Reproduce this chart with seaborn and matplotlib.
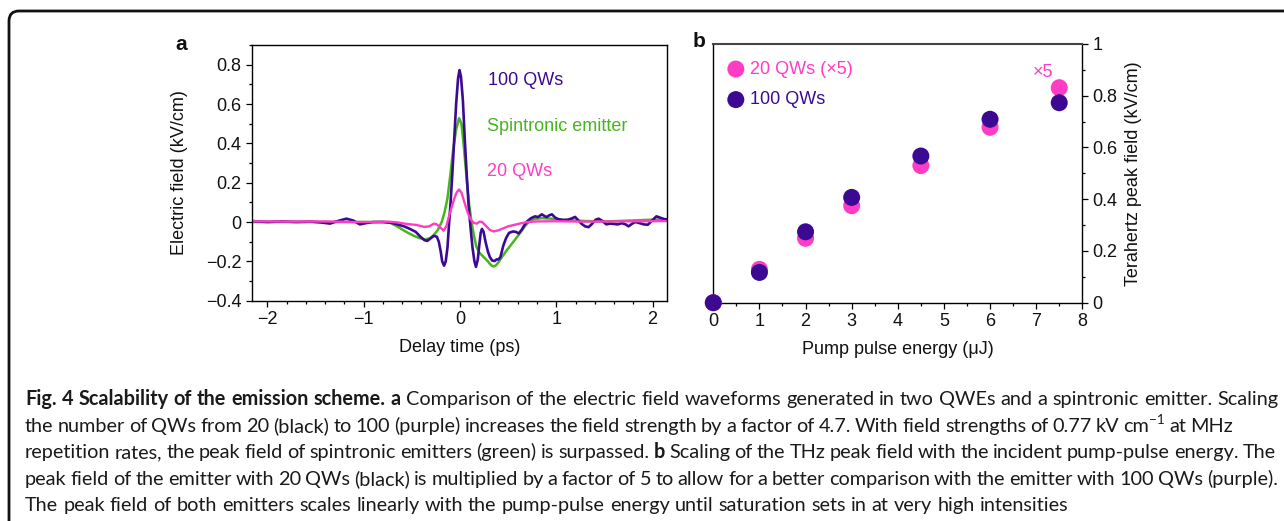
import numpy as np
import pandas as pd
import matplotlib
matplotlib.use("Agg")
import matplotlib.pyplot as plt
import seaborn as sns
from matplotlib.patches import FancyBboxPatch
from matplotlib.transforms import IdentityTransform
from matplotlib.ticker import MultipleLocator, FixedLocator, FixedFormatter

# ---------------- data ----------------
# panel a: 100 QWs waveform
t_100 = [-2.16, -2.0, -1.85, -1.7, -1.55, -1.45, -1.35, -1.27, -1.18, -1.11, -1.04, -0.97, -0.9, -0.8,
         -0.72, -0.65, -0.58, -0.52, -0.46, -0.41, -0.37, -0.34, -0.31, -0.27, -0.24, -0.22, -0.20,
         -0.185, -0.165, -0.148, -0.13, -0.115, -0.10, -0.08, -0.06, -0.04, -0.02, -0.005, 0.01, 0.03,
         0.05, 0.07, 0.09, 0.11, 0.13, 0.15, 0.166, 0.185, 0.20, 0.215, 0.228, 0.245, 0.265, 0.29, 0.31,
         0.335, 0.36, 0.38, 0.40, 0.42, 0.45, 0.48, 0.51, 0.55, 0.58, 0.61, 0.64, 0.67, 0.70, 0.74, 0.78,
         0.81, 0.85, 0.88, 0.90, 0.93, 0.955, 0.99, 1.02, 1.07, 1.12, 1.16, 1.195, 1.23, 1.265, 1.30,
         1.335, 1.37, 1.41, 1.44, 1.48, 1.52, 1.56, 1.60, 1.64, 1.68, 1.72, 1.75, 1.79, 1.82, 1.86, 1.91,
         1.95, 1.99, 2.04, 2.08, 2.12, 2.16]
e_100 = [0.005, 0.0, 0.003, 0.0, 0.002, -0.002, -0.008, 0.005, 0.017, 0.008, -0.012, -0.005, 0.0, 0.0,
         -0.003, -0.012, -0.022, -0.035, -0.05, -0.075, -0.092, -0.096, -0.085, -0.07, -0.075, -0.1, -0.15,
         -0.2, -0.222, -0.2, -0.13, -0.02, 0.08, 0.24, 0.42, 0.6, 0.73, 0.772, 0.74, 0.62,
         0.42, 0.24, 0.08, -0.03, -0.13, -0.2, -0.228, -0.19, -0.12, -0.055, -0.035, -0.05, -0.1, -0.15, -0.178,
         -0.196, -0.198, -0.19, -0.19, -0.178, -0.12, -0.08, -0.055, -0.048, -0.05, -0.058, -0.04, -0.015, 0.005, 0.02, 0.029,
         0.025, 0.039, 0.03, 0.025, 0.035, 0.039, 0.022, 0.015, 0.01, 0.012, 0.018, 0.026, 0.008, -0.01, -0.022,
         -0.026, -0.01, 0.012, 0.017, 0.005, -0.012, -0.008, -0.01, -0.012, -0.006, -0.012, -0.022, -0.008, 0.0, -0.005, -0.012,
         -0.014, 0.005, 0.029, 0.022, 0.015, 0.012]

# panel a: spintronic emitter waveform
t_spin = [-2.16, -1.5, -1.0, -0.8, -0.72, -0.66, -0.6, -0.54, -0.48, -0.42, -0.36, -0.31, -0.27, -0.23,
          -0.19, -0.16, -0.13, -0.10, -0.07, -0.04, -0.01, 0.015, 0.035, 0.055, 0.075, 0.095, 0.12, 0.145,
          0.17, 0.2, 0.23, 0.26, 0.29, 0.32, 0.345, 0.37, 0.40, 0.44, 0.485, 0.54, 0.59, 0.64, 0.68, 0.72,
          0.77, 0.85, 0.95, 1.1, 1.3, 1.5, 1.7, 1.9, 2.16]
e_spin = [0.0, 0.0, 0.0, 0.0, -0.005, -0.02, -0.038, -0.055, -0.07, -0.082, -0.088, -0.082, -0.065, -0.04,
          0.0, 0.05, 0.12, 0.24, 0.37, 0.47, 0.528, 0.5, 0.41, 0.3, 0.19, 0.09, 0.0, -0.07,
          -0.125, -0.155, -0.17, -0.185, -0.2, -0.218, -0.226, -0.222, -0.205, -0.175, -0.144, -0.11, -0.078, -0.045, -0.018, 0.003,
          0.015, 0.02, 0.017, 0.01, 0.005, 0.003, 0.006, 0.01, 0.015]

# panel a: 20 QWs waveform
t_20 = [-2.16, -1.8, -1.4, -1.1, -0.9, -0.75, -0.65, -0.55, -0.45, -0.37, -0.32, -0.27, -0.24, -0.2,
        -0.17, -0.14, -0.12, -0.09, -0.06, -0.035, -0.01, 0.015, 0.04, 0.065, 0.09, 0.115, 0.145, 0.175,
        0.205, 0.23, 0.27, 0.31, 0.35, 0.4, 0.45, 0.5, 0.56, 0.62, 0.7, 0.8, 1.0, 1.3, 1.6, 1.9, 2.16]
e_20 = [0.004, 0.002, 0.003, 0.0, 0.0, 0.002, -0.002, -0.01, -0.015, -0.025, -0.022, -0.008, -0.012, -0.03,
        -0.044, -0.02, 0.02, 0.07, 0.118, 0.15, 0.165, 0.15, 0.11, 0.07, 0.035, 0.01, -0.005, -0.008,
        0.002, 0.0, -0.02, -0.04, -0.048, -0.042, -0.032, -0.022, -0.015, -0.008, 0.0, 0.003, 0.004, 0.002, 0.003, 0.004, 0.005]

# panel b: peak field vs pump energy
energy = [0, 1, 2, 3, 4.5, 6, 7.5]
peak_20x5 = [0.0, 0.129, 0.249, 0.375, 0.530, 0.678, 0.831]
peak_100 = [0.0, 0.117, 0.274, 0.407, 0.567, 0.709, 0.773]

# tick labels
xa_ticks = [-2, -1, 0, 1, 2]
xa_labels = ["\u22122", "\u22121", "0", "1", "2"]
ya_ticks = [-0.4, -0.2, 0, 0.2, 0.4, 0.6, 0.8]
ya_labels = ["\u22120.4", "\u22120.2", "0", "0.2", "0.4", "0.6", "0.8"]
xb_ticks = [0, 1, 2, 3, 4, 5, 6, 7, 8]
xb_labels = ["0", "1", "2", "3", "4", "5", "6", "7", "8"]
yb_ticks = [0, 0.2, 0.4, 0.6, 0.8, 1.0]
yb_labels = ["0", "0.2", "0.4", "0.6", "0.8", "1"]

series_labels_a = ["100 QWs", "Spintronic emitter", "20 QWs"]
series_labels_b = ["20 QWs (\u00d75)", "100 QWs"]

caption_lines = [
    "**Fig. 4 Scalability of the emission scheme. a** Comparison of the electric field waveforms generated in two QWEs and a spintronic emitter. Scaling",
    "the number of QWs from 20 (black) to 100 (purple) increases the field strength by a factor of 4.7. With field strengths of 0.77 kV cm^\u22121 at MHz",
    "repetition rates, the peak field of spintronic emitters (green) is surpassed. **b** Scaling of the THz peak field with the incident pump-pulse energy. The",
    "peak field of the emitter with 20 QWs (black) is multiplied by a factor of 5 to allow for a better comparison with the emitter with 100 QWs (purple).",
    "The peak field of both emitters scales linearly with the pump-pulse energy until saturation sets in at very high intensities",
]

# ---------------- style ----------------
PURPLE = "#3c0a92"
GREEN = "#46b51e"
PINK = "#ff3cc4"
MARKER_S = 150

sns.set_theme(style="ticks")
plt.rcParams['font.family'] = ['Liberation Sans', 'DejaVu Sans']
plt.rcParams['axes.unicode_minus'] = True

W, H = 1284, 521
fig = plt.figure(figsize=(W / 100, H / 100), dpi=100)
fig.patch.set_facecolor("white")


def ax_rect(l, t, r, b):
    return [l / W, 1 - b / H, (r - l) / W, (b - t) / H]


axa = fig.add_axes(ax_rect(251.7, 45, 667.3, 300.7))
axb = fig.add_axes(ax_rect(713.3, 44, 1082.3, 302.7))

FS = 13

# ---------------- panel a ----------------
sns.lineplot(x=t_spin, y=e_spin, ax=axa, color=GREEN, lw=1.8, sort=False, estimator=None)
sns.lineplot(x=t_100, y=e_100, ax=axa, color=PURPLE, lw=1.9, sort=False, estimator=None)
sns.lineplot(x=t_20, y=e_20, ax=axa, color=PINK, lw=1.7, sort=False, estimator=None)
axa.set_xlim(-2.163, 2.153)
axa.set_ylim(-0.4, 0.9)
axa.xaxis.set_major_locator(FixedLocator(xa_ticks))
axa.xaxis.set_major_formatter(FixedFormatter(xa_labels))
axa.xaxis.set_minor_locator(MultipleLocator(0.2))
axa.yaxis.set_major_locator(FixedLocator(ya_ticks))
axa.yaxis.set_major_formatter(FixedFormatter(ya_labels))
axa.yaxis.set_minor_locator(MultipleLocator(0.1))
for s in axa.spines.values():
    s.set_visible(True)
    s.set_linewidth(1.0)
    s.set_color("black")
axa.tick_params(which="both", direction="out", color="black", width=0.9, labelsize=FS, labelcolor="#111")
axa.tick_params(which="major", length=4)
axa.tick_params(which="minor", length=2.5)
axa.set_xlabel("Delay time (ps)", fontsize=FS, color="#111")
axa.set_ylabel("Electric field (kV/cm)", fontsize=FS, color="#111")
axa.xaxis.label.set_va("center")
axa.yaxis.label.set_va("center")
axa.xaxis.set_label_coords(0.5, (300.7 - 348) / 255.7)
axa.yaxis.set_label_coords((180 - 251.7) / 415.6, 0.5)

axa.text(0.569, 0.863, series_labels_a[0], transform=axa.transAxes, color=PURPLE, fontsize=FS, va="center")
axa.text(0.567, 0.680, series_labels_a[1], transform=axa.transAxes, color=GREEN, fontsize=FS, va="center")
axa.text(0.567, 0.5045, series_labels_a[2], transform=axa.transAxes, color=PINK, fontsize=FS, va="center")

# ---------------- panel b ----------------
sns.scatterplot(x=energy, y=peak_20x5, ax=axb, color=PINK, s=MARKER_S, edgecolor="none",
                label=series_labels_b[0], clip_on=False, zorder=3)
sns.scatterplot(x=energy, y=peak_100, ax=axb, color=PURPLE, s=MARKER_S, edgecolor="none",
                label=series_labels_b[1], clip_on=False, zorder=4)
axb.set_xlim(0, 8)
axb.set_ylim(0, 1)
axb.xaxis.set_major_locator(FixedLocator(xb_ticks))
axb.xaxis.set_major_formatter(FixedFormatter(xb_labels))
axb.xaxis.set_minor_locator(MultipleLocator(0.5))
axb.yaxis.tick_right()
axb.yaxis.set_label_position("right")
axb.yaxis.set_major_locator(FixedLocator(yb_ticks))
axb.yaxis.set_major_formatter(FixedFormatter(yb_labels))
axb.yaxis.set_minor_locator(MultipleLocator(0.1))
for s in axb.spines.values():
    s.set_visible(True)
    s.set_linewidth(1.0)
    s.set_color("black")
axb.spines["top"].set_color("#444")
axb.spines["top"].set_linewidth(1.5)
axb.tick_params(which="both", direction="out", color="black", width=0.9, labelsize=FS, labelcolor="#111")
axb.tick_params(which="major", length=4)
axb.tick_params(which="minor", length=2.5)
axb.set_xlabel("Pump pulse energy (\u03bcJ)", fontsize=FS, color="#111")
axb.set_ylabel("Terahertz peak field (kV/cm)", fontsize=FS, color="#111")
axb.xaxis.label.set_va("center")
axb.yaxis.label.set_va("center")
axb.xaxis.set_label_coords(0.5, (302.7 - 349) / 258.7)
axb.yaxis.set_label_coords((1133 - 713.3) / 369, 0.5)

h, l = axb.get_legend_handles_labels()
leg = axb.legend(h, l, loc="upper left", bbox_to_anchor=(0.017, 0.963), frameon=False, fontsize=FS,
                 labelcolor=[PINK, PURPLE], handletextpad=0.3, labelspacing=0.75, borderaxespad=0,
                 handlelength=1.0)
for hd in leg.legend_handles:
    if hasattr(hd, "set_markersize"):
        hd.set_markersize(np.sqrt(MARKER_S))
    if hasattr(hd, "set_sizes"):
        hd.set_sizes([MARKER_S])
axb.text(0.893, 0.889, "\u00d75", transform=axb.transAxes, color=PINK, fontsize=FS, ha="center", va="center")

# panel letters
fig.text(180.7 / W, 1 - 44 / H, "a", fontsize=15, fontweight="bold", ha="center", va="center", color="#111")
fig.text(699 / W, 1 - 41.7 / H, "b", fontsize=15, fontweight="bold", ha="center", va="center", color="#111")

# ---------------- border ----------------
border = FancyBboxPatch((9, -40), 1400, H - 11 + 40, boxstyle="round,pad=0,rounding_size=10",
                        transform=IdentityTransform(), fill=False, lw=2.0, ec="#111")
fig.add_artist(border)

# ---------------- caption (justified) ----------------
CAP_FONT = ['Lato', 'DejaVu Sans']
renderer = fig.canvas.get_renderer()


def parse(line):
    words = []
    bold = False
    for w in line.split(" "):
        if w.startswith("**"):
            bold = True
            w = w[2:]
        b = bold
        if w.endswith("**"):
            w = w[:-2]
            bold = False
        if "^" in w:
            base, sup = w.split("^")
            words.append([(base, b, False), (sup, b, True)])
        else:
            words.append([(w, b, False)])
    return words


def seg_w(txt, bold, sup, fs):
    t = fig.text(0, 0, txt, fontsize=fs * (0.68 if sup else 1.0),
                 fontweight="bold" if bold else "normal", family=CAP_FONT)
    w = t.get_window_extent(renderer).width
    t.remove()
    return w


def space_w(fs):
    return seg_w("a a", False, False, fs) - seg_w("aa", False, False, fs)


def word_w(word, fs):
    return sum(seg_w(tx, b, s, fs) for tx, b, s in word)


parsed = [parse(l) for l in caption_lines]
base_fs = 12.0
w5 = sum(word_w(w, base_fs) for w in parsed[4]) + space_w(base_fs) * (len(parsed[4]) - 1)
cap_fs = base_fs * (1068 - 25) / w5

cap_left = 25
cap_right = [1278, 1233, 1276, 1278, None]
cap_base = [405, 432, 458, 485, 511]
sp = space_w(cap_fs)
for words, right, base in zip(parsed, cap_right, cap_base):
    widths = [word_w(w, cap_fs) for w in words]
    if right is not None and len(words) > 1:
        gap = (right - cap_left - sum(widths)) / (len(words) - 1)
    else:
        gap = sp
    x = cap_left
    for word, ww in zip(words, widths):
        xx = x
        for tx, b, s in word:
            yy = (H - base) + (round(cap_fs * 100 / 72 * 0.38) if s else 0) + 0.01
            fig.text(xx / W, yy / H, tx, fontsize=cap_fs * (0.68 if s else 1.0),
                     fontweight="bold" if b else "normal", family=CAP_FONT,
                     ha="left", va="baseline", color="#1a1a1a")
            xx += seg_w(tx, b, s, cap_fs)
        x += ww + gap

fig.savefig("out.png", dpi=100, facecolor="white")
